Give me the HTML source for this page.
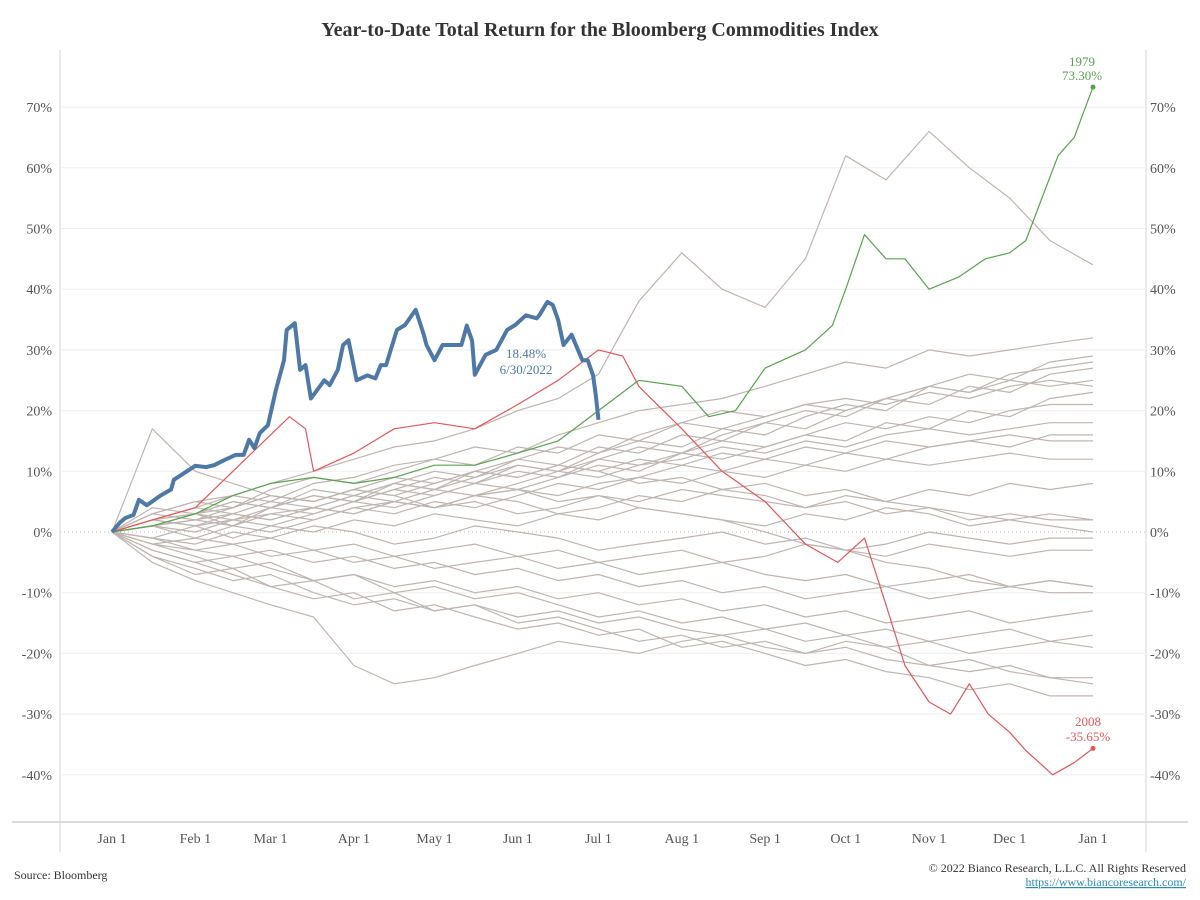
<!DOCTYPE html>
<html><head><meta charset="utf-8"><style>
body{margin:0;background:#fff;font-family:"Liberation Serif",serif;}
svg{display:block}
</style></head><body>
<svg id="c" width="1200" height="900" xmlns="http://www.w3.org/2000/svg"></svg>
<script>
const yTicks=[-40,-30,-20,-10,0,10,20,30,40,50,60,70];
const monthLabels=["Jan 1","Feb 1","Mar 1","Apr 1","May 1","Jun 1","Jul 1","Aug 1","Sep 1","Oct 1","Nov 1","Dec 1","Jan 1"];
const monthDays=[0,31,59,90,120,151,181,212,243,273,304,334,365];
const grayDays=[0,15,31,45,59,75,90,105,120,135,151,166,181,196,212,227,243,258,273,288,304,319,334,349,365];
const grayLines=[
[0,3,5,6,8,10,12,14,15,17,20,22,26,38,46,40,37,45,62,58,66,60,55,48,44],
[0,2,4,6,5,8,9,11,12,14,13,16,18,20,21,22,24,26,28,27,30,29,30,31,32],
[0,1,3,2,4,6,5,7,9,8,11,10,12,14,13,16,18,17,20,22,24,23,26,27,28],
[0,2,1,3,5,4,6,8,7,10,12,11,14,13,16,15,18,20,19,22,21,24,23,26,27],
[0,4,3,5,4,7,6,8,10,9,12,14,13,16,18,17,19,21,20,22,24,23,25,24,25],
[0,-1,1,2,1,3,5,4,6,8,7,9,11,10,13,12,14,16,15,18,17,20,19,22,23],
[0,2,3,1,4,3,5,7,6,8,10,9,12,11,13,15,14,16,18,17,19,18,20,21,21],
[0,1,0,2,3,2,4,5,7,6,8,10,9,11,12,14,13,15,14,16,17,16,17,18,18],
[0,-2,-1,1,0,2,4,3,5,4,6,8,7,9,11,10,12,11,13,12,14,15,14,16,16],
[0,3,2,4,6,5,7,6,8,10,9,11,10,12,11,13,12,14,13,15,14,15,16,15,15],
[0,1,2,1,3,4,3,5,4,6,7,6,8,9,8,10,9,11,10,12,11,12,13,12,12],
[0,17,10,8,6,5,7,6,4,5,3,4,6,5,7,6,5,4,6,5,7,6,8,7,8],
[0,2,1,-1,1,0,2,1,3,2,1,3,2,4,3,2,1,3,2,4,3,1,2,3,2],
[0,-1,-2,0,-1,1,0,-2,-1,1,0,-1,-3,-2,-1,0,-2,-1,-3,-2,0,-1,-2,-1,-1],
[0,1,-1,-2,-1,-3,-2,-4,-3,-2,-4,-3,-5,-4,-3,-5,-4,-2,-3,-4,-2,-3,-4,-3,-3],
[0,-2,-3,-2,-4,-3,-5,-4,-6,-5,-4,-6,-5,-7,-6,-5,-7,-8,-7,-9,-8,-7,-9,-8,-9],
[0,-1,-3,-4,-3,-5,-4,-6,-5,-7,-6,-8,-7,-9,-8,-10,-9,-11,-10,-9,-11,-10,-9,-10,-10],
[0,-3,-5,-4,-6,-8,-7,-9,-8,-10,-9,-11,-10,-12,-11,-13,-12,-14,-13,-15,-14,-13,-15,-14,-13],
[0,-2,-4,-6,-5,-8,-7,-10,-9,-11,-10,-12,-14,-13,-15,-14,-16,-15,-17,-16,-18,-17,-16,-18,-17],
[0,-4,-6,-8,-7,-10,-12,-11,-13,-12,-14,-13,-15,-14,-16,-17,-16,-18,-17,-19,-18,-20,-19,-18,-19],
[0,-3,-5,-7,-9,-8,-11,-10,-13,-12,-15,-14,-16,-18,-17,-19,-18,-20,-19,-21,-22,-21,-23,-24,-24],
[0,-5,-8,-10,-12,-14,-22,-25,-24,-22,-20,-18,-19,-20,-18,-17,-19,-20,-18,-19,-22,-23,-22,-24,-25],
[0,-4,-7,-6,-9,-11,-10,-13,-12,-14,-16,-15,-17,-16,-19,-18,-20,-22,-21,-23,-24,-26,-25,-27,-27],
[0,3,5,4,7,9,8,10,12,11,14,13,16,15,18,20,19,21,22,21,23,22,24,25,24],
[0,1,3,5,4,6,5,8,7,9,11,10,13,15,14,17,16,19,21,20,24,26,25,28,29],
[0,2,4,3,2,4,3,5,4,6,5,3,4,6,5,7,6,4,5,3,4,2,3,2,2],
[0,2,3,4,6,5,7,9,8,10,9,11,10,8,9,7,8,6,7,5,4,3,2,1,0],
[0,1,2,3,2,4,6,5,4,6,7,5,6,4,3,2,0,-2,-3,-5,-6,-8,-9,-8,-9]
];
const blueDays=[0,3,5,8,10,13,18,22,23,31,35,38,42,46,49,51,53,55,58,61,64,65,68,70,72,74,79,81,84,86,88,91,95,98,100,102,106,109,113,116,117,120,123,127,130,132,134,135,139,143,147,150,154,158,159,162,164,166,168,171,175,177,179,180,181];
const blueVals=[0,1.6,2.3,2.8,5.3,4.4,6,7,8.6,10.9,10.7,11,11.9,12.7,12.7,15.2,13.8,16.3,17.6,23.4,28.3,33.3,34.4,26.7,27.5,22,25,24.2,26.7,30.8,31.6,25,25.8,25.3,27.5,27.5,33.3,34.1,36.6,32.5,30.8,28.3,30.8,30.8,30.8,34,31.5,25.9,29.2,30,33.3,34.1,35.7,35.2,35.7,37.9,37.4,34.9,30.8,32.5,28.3,28.3,25.8,22.5,18.48];
const redDays=[0,15,31,45,59,66,72,75,90,105,120,135,151,166,181,190,196,212,227,243,258,270,280,288,295,304,312,319,326,334,340,350,358,365];
const redVals=[0,2,4,10,16,19,17,10,13,17,18,17,21,25,30,29,24,17,10,5,-2,-5,-1,-12,-22,-28,-30,-25,-30,-33,-36,-40,-38,-35.65];
const greenDays=[0,15,31,45,59,75,90,105,120,135,151,166,181,196,212,222,232,243,258,268,273,280,288,295,304,315,325,334,340,346,352,358,365];
const greenVals=[0,1,3,6,8,9,8,9,11,11,13,15,20,25,24,19,20,27,30,34,40,49,45,45,40,42,45,46,48,55,62,65,73.3];

const svg=document.getElementById('c');
const NS='http://www.w3.org/2000/svg';
const X=d=>112+d*(981/365);
const Y=v=>532-v*6.07;
function mk(t,a,p){const e=document.createElementNS(NS,t);for(const k in a)e.setAttribute(k,a[k]);(p||svg).appendChild(e);return e;}
function txt(s,a){const e=mk('text',a);e.textContent=s;return e;}

let t=txt('Year-to-Date Total Return for the Bloomberg Commodities Index',{x:600,y:36,'text-anchor':'middle','font-size':20,'font-weight':'bold',fill:'#333'});



let fr=mk('g',{});


mk('line',{x1:60,y1:50,x2:60,y2:852,stroke:'#d4d4d4'},fr);
mk('line',{x1:1146,y1:50,x2:1146,y2:852,stroke:'#d4d4d4'},fr);
mk('line',{x1:12,y1:822,x2:1188,y2:822,stroke:'#cfcfcf','stroke-width':1.5},fr);

yTicks.forEach(v=>{
  const g=mk('line',{x1:60,x2:1146,y1:Y(v),y2:Y(v),stroke:v===0?'#bbb':'#efefef','stroke-dasharray':v===0?'1,3':'none'});
  
  
  const lab=v+'%';
  let a=txt(lab,{x:52,y:Y(v)+5,'text-anchor':'end','font-size':14,fill:'#555'});
  
  
  let b=txt(lab,{x:1150,y:Y(v)+5,'text-anchor':'start','font-size':14,fill:'#555'});
  
  
});
monthDays.forEach((d,i)=>{
  let a=txt(monthLabels[i],{x:X(d),y:843,'text-anchor':'middle','font-size':14,fill:'#555'});
  
  
});

function path(days,vals,color,w,name){
  let d='';days.forEach((dd,i)=>{d+=(i?'L':'M')+X(dd).toFixed(1)+','+Y(vals[i]).toFixed(1);});
  const p=mk('path',{d:d,fill:'none',stroke:color,'stroke-width':w,'stroke-linejoin':'round'});
  
  
  return p;
}
grayLines.forEach(v=>path(grayDays,v,'#bfb5b0',1.2,'historical-year-line'));
path(redDays,redVals,'#e15759',1.2,'line-2008');
path(greenDays,greenVals,'#59a14f',1.2,'line-1979');
path(blueDays,blueVals,'#4e79a7',4,'line-2022');

let d1=mk('circle',{cx:X(365),cy:Y(73.3),r:2.5,fill:'#59a14f'});


let d2=mk('circle',{cx:X(365),cy:Y(-35.65),r:2.5,fill:'#e15759'});



function lbl(s,x,y,c,n){const e=txt(s,{x:x,y:y,'text-anchor':'middle','font-size':13,fill:c});}
lbl('1979',1082,66,'#59a14f','label-1979-year');
lbl('73.30%',1082,80,'#59a14f','label-1979-value');
lbl('2008',1088,726,'#e15759','label-2008-year');
lbl('-35.65%',1088,741,'#e15759','label-2008-value');
lbl('18.48%',526,358,'#4e79a7','label-2022-value');
lbl('6/30/2022',526,374,'#4e79a7','label-2022-date');

let s=txt('Source: Bloomberg',{x:14,y:879,'font-size':12,fill:'#333'});


let c=txt('© 2022 Bianco Research, L.L.C. All Rights Reserved',{x:1186,y:872,'text-anchor':'end','font-size':12,fill:'#333'});


let u=txt('https://www.biancoresearch.com/',{x:1186,y:886,'text-anchor':'end','font-size':12,fill:'#2a8ab8','text-decoration':'underline'});


</script>
</body></html>
